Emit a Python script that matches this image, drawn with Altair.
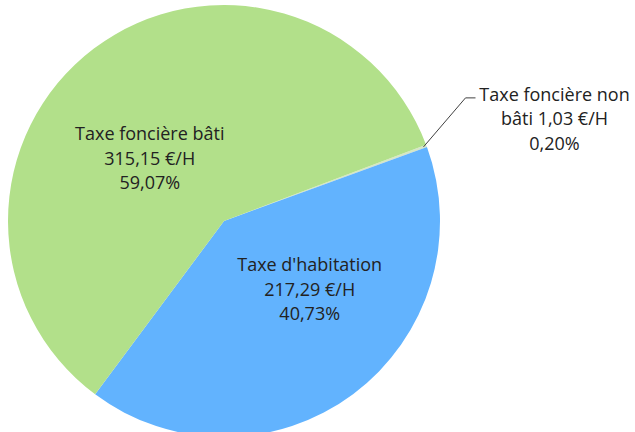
import math
import altair as alt
import pandas as pd

# ---- data ----
categories = ["Taxe foncière non bâti", "Taxe d'habitation", "Taxe foncière bâti"]
amounts = [1.03, 217.29, 315.15]
label_texts = [
    "Taxe foncière non\nbâti 1,03 €/H\n0,20%",
    "Taxe d'habitation\n217,29 €/H\n40,73%",
    "Taxe foncière bâti\n315,15 €/H\n59,07%",
]
slice_order = [0, 1, 2]
colors = ["#D6E6C6", "#62B3FE", "#B2E08A"]

df = pd.DataFrame({
    "category": categories,
    "value": amounts,
    "label": label_texts,
    "order": slice_order,
})

# ---- layout / style ----
CX, CY, R = 224, 221, 216
START = math.radians(69.3)
FONT = "Open Sans"
FS = 18
TXT = "#222222"

arc = alt.Chart(df).mark_arc(x=CX, y=CY, radius=R, stroke=None).encode(
    theta=alt.Theta("value:Q", stack=True,
                    scale=alt.Scale(range=[START, START + 2 * math.pi])),
    color=alt.Color("category:N",
                    scale=alt.Scale(domain=categories, range=colors),
                    legend=None),
    order=alt.Order("order:Q"),
)

base = (
    alt.Chart(df)
    .transform_window(cum="sum(value)", sort=[alt.SortField("order")], frame=[None, 0])
    .transform_joinaggregate(total="sum(value)")
    .transform_calculate(
        mid=f"{START} + 2*PI*(datum.cum - datum.value/2)/datum.total"
    )
)


def label_layer(cat, r, dx, dy):
    return (
        base.transform_filter(alt.datum.category == cat)
        .transform_calculate(
            px=f"{CX} + {r}*sin(datum.mid)",
            py=f"{CY} - {r}*cos(datum.mid)",
        )
        .mark_text(font=FONT, fontSize=FS, color=TXT, lineBreak="\n",
                   lineHeight=24.5, align="center", baseline="alphabetic",
                   dx=dx, dy=dy)
        .encode(x=alt.X("px:Q", scale=None), y=alt.Y("py:Q", scale=None),
                text="label:N")
    )


lab_bati = label_layer("Taxe foncière bâti", 100, -14, -1)
lab_hab = label_layer("Taxe d'habitation", 115, 17, -42)
lab_non = label_layer("Taxe foncière non bâti", R, 128, -45)

leader = (
    base.transform_filter(alt.datum.category == "Taxe foncière non bâti")
    .transform_calculate(
        x0=f"{CX} + {R}*sin(datum.mid) - 3",
        y0=f"{CY} - {R}*cos(datum.mid) + 1",
    )
    .transform_calculate(x1="datum.x0 + 42", y1="datum.y0 - 49")
    .transform_calculate(x2="datum.x1 + 10")
)
lead1 = leader.mark_rule(color="#404040", strokeWidth=1).encode(
    x=alt.X("x0:Q", scale=None), y=alt.Y("y0:Q", scale=None),
    x2="x1:Q", y2="y1:Q")
lead2 = leader.mark_rule(color="#404040", strokeWidth=1).encode(
    x=alt.X("x1:Q", scale=None), y=alt.Y("y1:Q", scale=None),
    x2="x2:Q", y2="y1:Q")

chart = (
    alt.layer(arc, lead1, lead2, lab_bati, lab_hab, lab_non)
    .properties(width=635, height=432, autosize="none", padding=0,
                background="white")
    .configure_view(stroke=None)
)

chart.save("out.html", embed_options={"renderer": "svg", "actions": False})
